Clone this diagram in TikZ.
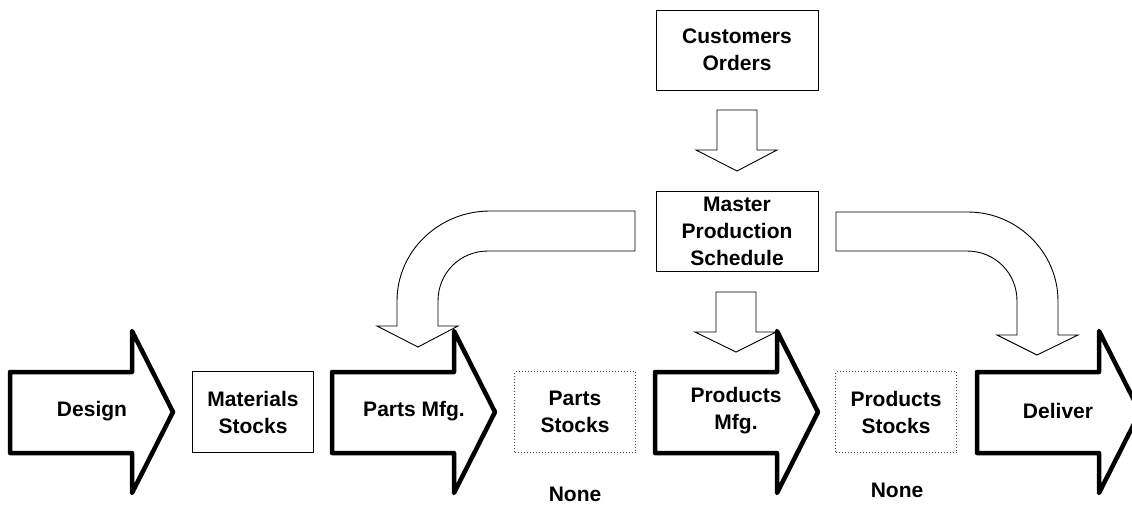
\documentclass[tikz,border=0pt]{standalone}
\usepackage{fontspec}
\setmainfont{Liberation Sans}
\begin{document}
\begin{tikzpicture}[x=1pt,y=-1pt,
  lbl/.style={font=\fontsize{21}{27}\selectfont\bfseries, align=center, inner sep=0pt},
  box/.style={lbl, draw, line width=1pt, minimum width=121pt, minimum height=81pt},
  stockbox/.style={box, draw=black!75, dotted},
  bigarrow/.style={draw, line width=4.5pt, line join=round, fill=white},
  flowarrow/.style={draw, line width=0.9pt, fill=white},
  bigarr/.pic={\draw[bigarrow] (0,372) -- (122,372) -- (122,331) -- (163,412) -- (122,493) -- (122,453) -- (0,453) -- cycle;}]
\path[use as bounding box] (0,0) rectangle (1132,504);
\clip (0,0) rectangle (1132,504);

% top boxes
\node[box, minimum width=162pt, minimum height=80pt] (co) at (737,50) {Customers\\Orders};
\node[box, minimum width=162pt, minimum height=80pt] (mps) at (737,231) {Master\\Production\\Schedule};

% block flow arrows
\draw[flowarrow] (717,110) -- (757,110) -- (757,150) -- (777,150) -- (737,171) -- (696,150) -- (717,150) -- cycle;
\draw[flowarrow] (716,292) -- (756,292) -- (756,332) -- (776,332) -- (736,352) -- (695,332) -- (716,332) -- cycle;
\draw[flowarrow] (635,211) -- (490,211) .. controls (439,211) and (397,251) .. (397,301) -- (397,326) -- (377,326) -- (418,347) -- (458,326) -- (438,326) -- (438,301) .. controls (438,273) and (460,251) .. (488,251) -- (635,251) -- cycle;
\draw[flowarrow] (836,212) -- (968,212) .. controls (1017,212) and (1058,252) .. (1058,301) -- (1058,335) -- (1078,335) -- (1037,355) -- (997,335) -- (1017,335) -- (1017,301) .. controls (1017,273) and (995,251) .. (967,251) -- (836,251) -- cycle;

% big process arrows
\pic at (10,0) {bigarr};
\pic at (332,0) {bigarr};
\pic at (655,0) {bigarr};
\pic at (977,0) {bigarr};

\node[lbl] (design) at (92,411) {Design};
\node[lbl] (partsmfg) at (414,411) {Parts Mfg.};
\node[lbl] (prodmfg) at (736,411) {Products\\Mfg.};
\node[lbl] (deliver) at (1058,411) {Deliver};

% stock boxes
\node[box] (mat) at (253,412) {Materials\\Stocks};
\node[stockbox] (ps) at (575,412) {Parts\\Stocks};
\node[stockbox] (prs) at (896,412) {Products\\Stocks};

\node[lbl] (none1) at (575,494) {None};
\node[lbl] (none2) at (897,490) {None};
\end{tikzpicture}
\end{document}
